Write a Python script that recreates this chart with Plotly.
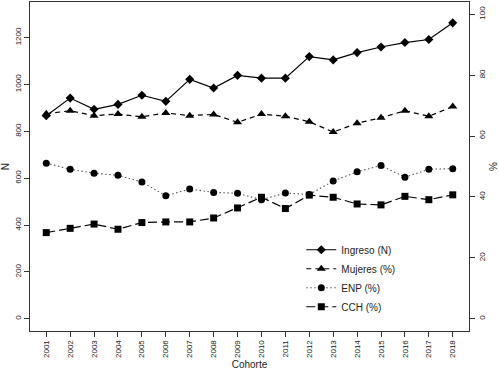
import plotly.graph_objects as go

years = list(range(2001, 2019))
ingreso_n = [867, 942, 894, 915, 954, 928, 1022, 985, 1039, 1027, 1027, 1119, 1105, 1136, 1160, 1179, 1192, 1263]
mujeres_pct = [67.3, 68.3, 66.7, 67.2, 66.3, 67.6, 66.7, 67.1, 64.5, 67.2, 66.5, 64.7, 61.3, 64.2, 66.0, 68.3, 66.5, 69.7]
enp_pct = [51.1, 49.1, 47.8, 47.1, 44.9, 40.4, 42.6, 41.5, 41.2, 39.1, 41.3, 40.8, 45.2, 48.3, 50.3, 46.5, 49.1, 49.3]
cch_pct = [28.3, 29.7, 31.1, 29.4, 31.6, 31.8, 31.8, 33.1, 36.4, 39.9, 36.2, 40.6, 39.9, 37.7, 37.4, 40.2, 39.1, 40.7]

left_ticks = [0, 200, 400, 600, 800, 1000, 1200]
right_ticks = [0, 20, 40, 60, 80, 100]

FONT = "Liberation Sans Narrow, Liberation Sans, Arial, sans-serif"

fig = go.Figure()
fig.add_trace(go.Scatter(x=years, y=ingreso_n, name="Ingreso (N)", mode="lines+markers",
                         line=dict(color="black", width=1.2),
                         marker=dict(symbol="diamond", size=7, color="black")))
fig.add_trace(go.Scatter(x=years, y=mujeres_pct, name="Mujeres (%)", mode="lines+markers", yaxis="y2",
                         line=dict(color="black", width=1.2, dash="5px,4px"),
                         marker=dict(symbol="triangle-up", size=8, color="black")))
fig.add_trace(go.Scatter(x=years, y=enp_pct, name="ENP (%)", mode="lines+markers", yaxis="y2",
                         line=dict(color="#555555", width=1.1, dash="1.5px,2.5px"),
                         marker=dict(symbol="circle", size=7, color="black")))
fig.add_trace(go.Scatter(x=years, y=cch_pct, name="CCH (%)", mode="lines+markers", yaxis="y2",
                         line=dict(color="black", width=1.2, dash="9px,4px"),
                         marker=dict(symbol="square", size=7, color="black")))

axis_common = dict(showline=True, linecolor="#333333", linewidth=1, ticks="outside", ticklen=5,
                   tickcolor="#333333", showgrid=False, zeroline=False,
                   tickfont=dict(family=FONT, size=8, color="#222222"))

fig.update_layout(
    width=499, height=370,
    margin=dict(l=30, r=19, t=1, b=37),
    plot_bgcolor="white", paper_bgcolor="white",
    font=dict(family=FONT, color="#222222"),
    xaxis=dict(range=[2000.32, 2018.68], tickmode="array", tickvals=years,
               ticktext=[str(y) for y in years], tickangle=-90, mirror=True,
               title=dict(text="Cohorte", font=dict(family=FONT, size=10), standoff=4),
               **axis_common),
    yaxis=dict(range=[-52, 1352], tickmode="array", tickvals=left_ticks,
               ticktext=[str(v) for v in left_ticks], tickangle=-90,
               title=dict(text="N", font=dict(family=FONT, size=10), standoff=6),
               **axis_common),
    yaxis2=dict(range=[-4, 104], overlaying="y", side="right", tickmode="array",
                tickvals=right_ticks, ticktext=[str(v) for v in right_ticks], tickangle=-90,
                title=dict(text="%", font=dict(family=FONT, size=10), standoff=4),
                **axis_common),
    legend=dict(x=0.618, y=0.291, xanchor="left", yanchor="top", bgcolor="rgba(0,0,0,0)",
                font=dict(family=FONT, size=10, color="#222222"), tracegroupgap=0),
    showlegend=True,
)

fig.write_html("out.html", config={"displayModeBar": False},
               post_script="document.body.style.margin='0';document.body.style.padding='0';")
